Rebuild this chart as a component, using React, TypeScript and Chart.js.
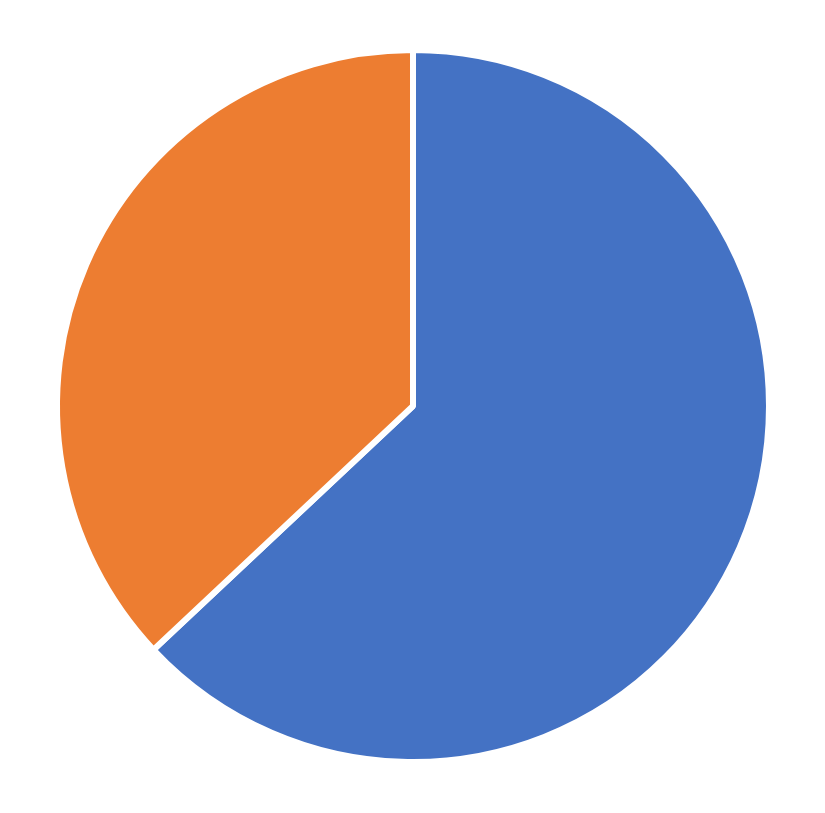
import React, { useEffect, useRef } from 'react';
import { Chart } from 'chart.js/auto';

const labels = ['Series A', 'Series B'];
const values = [63, 37];
const colors = ['#4472C4', '#ED7D31'];

const App: React.FC = () => {
  const canvasRef = useRef<HTMLCanvasElement>(null);

  useEffect(() => {
    document.body.style.margin = '0';
    if (!canvasRef.current) return;
    const chart = new Chart(canvasRef.current, {
      type: 'pie',
      data: {
        labels,
        datasets: [{
          data: values,
          backgroundColor: colors,
          borderColor: '#ffffff',
          borderWidth: 6
        }]
      },
      options: {
        animation: false,
        responsive: true,
        maintainAspectRatio: false,
        layout: { padding: { left: 54, right: 53, top: 47, bottom: 48 } },
        plugins: {
          legend: { display: false },
          tooltip: { enabled: false }
        }
      }
    });
    return () => chart.destroy();
  }, []);

  return (
    <div style={{ position: 'relative', width: 825, height: 813, background: '#fff' }}>
      <canvas ref={canvasRef}></canvas>
    </div>
  );
};

export default App;
